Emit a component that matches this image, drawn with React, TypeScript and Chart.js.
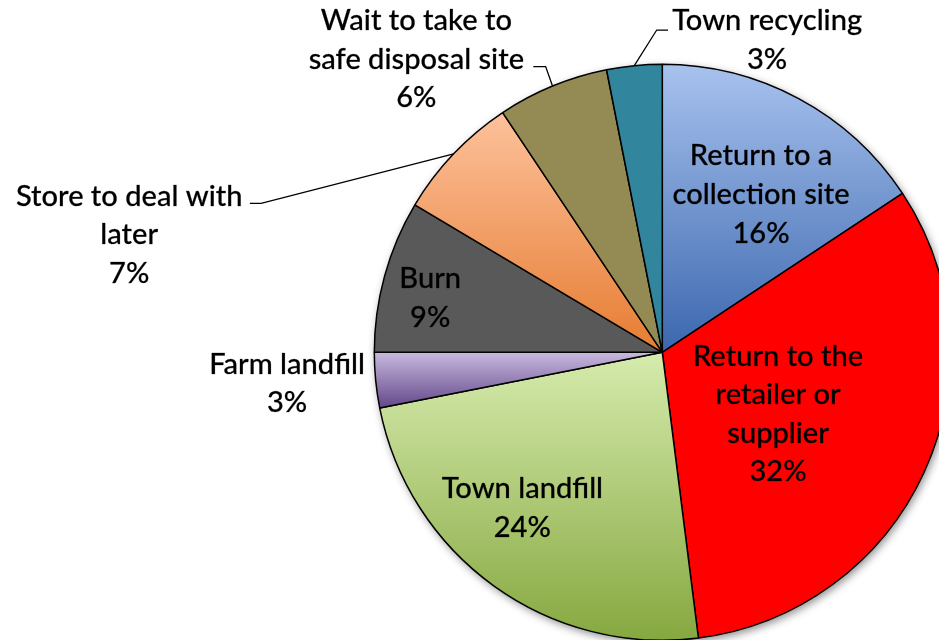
import React, { useEffect, useRef } from "react";
import { Chart, registerables } from "chart.js";

Chart.register(...registerables);

// ---- data ----
const categories = [
  "Return to a\ncollection site",
  "Return to the\nretailer or\nsupplier",
  "Town landfill",
  "Farm landfill",
  "Burn",
  "Store to deal with\nlater",
  "Wait to take to\nsafe disposal site",
  "Town recycling",
];
const shares = [15.7, 32.3, 23.9, 3.1, 8.55, 7.1, 6.25, 3.1];

// ---- styling ----
const FILLS: (string | [string, string])[] = [
  ["#a8c2ee", "#3b67ae"],
  "#ff0000",
  ["#d6ebad", "#86a840"],
  ["#c8b9df", "#634889"],
  "#595959",
  ["#fdc19b", "#e67c32"],
  "#948b54",
  "#31859c",
];

const W = 939;
const H = 640;
const CX = 662.3;
const CY = 352.3;
const RADIUS = 288;
const FONT = "500 29px Lato";
const LINE_H = 38.6;
const REF_WIDTH_TEXT = "Town recycling";
const REF_WIDTH = 190;

// label block centre (mid baseline), relative to pie centre, in radii
const LABEL_POS: [number, number][] = [
  [0.343, -0.515],
  [0.402, 0.247],
  [-0.486, 0.574],
  [-1.303, 0.142],
  [-0.806, -0.156],
  [-1.851, -0.375],
  [-0.854, -0.985],
  [0.364, -1.051],
];
// leader line points after the slice edge point, relative to centre, in radii
const LEADERS: Record<number, [number, number][]> = {
  5: [
    [-1.393, -0.517],
    [-1.432, -0.517],
  ],
  6: [
    [-0.405, -0.992],
    [-0.448, -0.992],
  ],
  7: [
    [-0.0194, -1.119],
    [0.0198, -1.119],
  ],
};

function sliceFill(c: any) {
  const f = FILLS[c.dataIndex];
  if (typeof f === "string") return f;
  const chart = c.chart;
  const area = chart.chartArea;
  if (!area) return f[0];
  const cy = (area.top + area.bottom) / 2;
  const total = shares.reduce((a, b) => a + b, 0);
  let cum = 0;
  for (let i = 0; i < c.dataIndex; i++) cum += shares[i];
  const a0 = -Math.PI / 2 + (2 * Math.PI * cum) / total;
  const a1 = -Math.PI / 2 + (2 * Math.PI * (cum + shares[c.dataIndex])) / total;
  let minY = cy;
  let maxY = cy;
  const steps = 60;
  for (let s = 0; s <= steps; s++) {
    const a = a0 + ((a1 - a0) * s) / steps;
    const y = cy + RADIUS * Math.sin(a);
    minY = Math.min(minY, y);
    maxY = Math.max(maxY, y);
  }
  const g = chart.ctx.createLinearGradient(0, minY, 0, maxY);
  g.addColorStop(0, f[0]);
  g.addColorStop(1, f[1]);
  return g;
}

const shadowPlugin = {
  id: "pieShadow",
  beforeDatasetsDraw(chart: any) {
    const el = chart.getDatasetMeta(0).data[0];
    if (!el) return;
    const ctx = chart.ctx;
    ctx.save();
    ctx.shadowColor = "rgba(0,0,0,0.45)";
    ctx.shadowBlur = 9;
    ctx.shadowOffsetX = 2;
    ctx.shadowOffsetY = 3;
    ctx.fillStyle = "#ffffff";
    ctx.beginPath();
    ctx.arc(el.x, el.y, el.outerRadius, 0, Math.PI * 2);
    ctx.fill();
    ctx.restore();
  },
};

const labelPlugin = {
  id: "pieLabels",
  afterDatasetsDraw(chart: any) {
    const meta = chart.getDatasetMeta(0);
    const ctx = chart.ctx;
    const total = shares.reduce((a, b) => a + b, 0);
    ctx.save();
    ctx.font = FONT;
    const sx = REF_WIDTH / ctx.measureText(REF_WIDTH_TEXT).width;
    meta.data.forEach((el: any, i: number) => {
      const cx = el.x;
      const cy = el.y;
      const r = el.outerRadius;
      const pts = LEADERS[i];
      if (pts) {
        const mid = (el.startAngle + el.endAngle) / 2;
        ctx.beginPath();
        ctx.moveTo(cx + r * Math.cos(mid), cy + r * Math.sin(mid));
        pts.forEach(([dx, dy]) => ctx.lineTo(cx + dx * r, cy + dy * r));
        ctx.strokeStyle = "#000";
        ctx.lineWidth = 1.3;
        ctx.stroke();
      }
      const lines = categories[i].split("\n");
      lines.push(Math.round((shares[i] / total) * 100) + "%");
      const [px, py] = LABEL_POS[i];
      const bx = cx + px * r;
      const by = cy + py * r;
      ctx.fillStyle = "#000";
      ctx.strokeStyle = "rgba(0,0,0,0.55)";
      ctx.lineWidth = 0.4;
      ctx.textAlign = "center";
      ctx.textBaseline = "alphabetic";
      lines.forEach((line, k) => {
        const y = by + (k - (lines.length - 1) / 2) * LINE_H;
        ctx.save();
        ctx.translate(bx, y);
        ctx.scale(sx, 1);
        ctx.fillText(line, 0, 0);
        ctx.strokeText(line, 0, 0);
        ctx.restore();
      });
    });
    ctx.restore();
  },
};

export default function App() {
  const ref = useRef<HTMLCanvasElement | null>(null);
  useEffect(() => {
    if (!ref.current) return;
    const chart = new Chart(ref.current, {
      type: "pie",
      data: {
        labels: categories.map((c) => c.replace(/\n/g, " ")),
        datasets: [
          {
            data: shares,
            backgroundColor: sliceFill as any,
            borderColor: "#000000",
            borderWidth: 1.5,
            clip: false as any,
          },
        ],
      },
      options: {
        animation: false,
        responsive: false,
        devicePixelRatio: 1,
        radius: RADIUS,
        events: [],
        layout: {
          padding: {
            left: 2 * CX - W,
            right: 0,
            top: 2 * CY - H,
            bottom: 0,
          },
        },
        plugins: {
          legend: { display: false },
          tooltip: { enabled: false },
        },
      } as any,
      plugins: [shadowPlugin, labelPlugin],
    });
    return () => chart.destroy();
  }, []);
  return (
    <div style={{ position: "absolute", left: 0, top: 0, width: W, height: H, background: "#fff" }}>
      <canvas ref={ref} width={W} height={H} style={{ display: "block" }} />
    </div>
  );
}
